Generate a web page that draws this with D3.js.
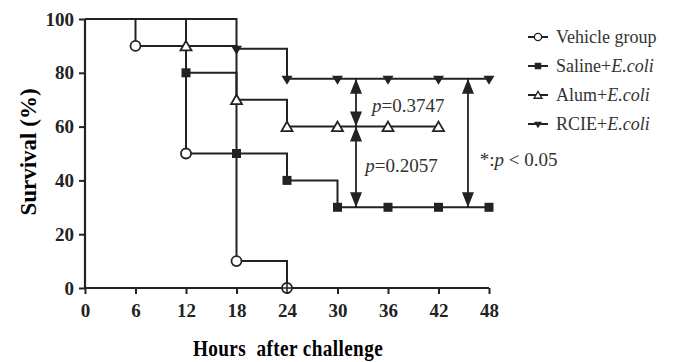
<!DOCTYPE html>
<html>
  <head>
    <meta charset="utf-8">
    <title>Survival after challenge</title>
    <script src="https://d3js.org/d3.v7.min.js"></script>
    <style>
      body { margin: 0; background: #fff; }
    </style>
  </head>
  <body>
    <script>
      // Canvas and plot area
      var W = 673, H = 362;
      var margin = {top: 19, right: 184, bottom: 74, left: 85};
      var width = W - margin.left - margin.right;
      var height = H - margin.top - margin.bottom;
      var ink = "#222";
      var serif = "'Liberation Serif', 'Times New Roman', serif";

      // Data
      var hourTicks = [0, 6, 12, 18, 24, 30, 36, 42, 48];
      var survivalTicks = [0, 20, 40, 60, 80, 100];
      var groups = ["Vehicle group", "Saline+E.coli", "Alum+E.coli", "RCIE+E.coli"];
      var vehicleHours = [0, 6, 12, 18, 24];
      var vehicleSurvival = [100, 90, 50, 10, 0];
      var salineHours = [0, 12, 18, 24, 30, 36, 42, 48];
      var salineSurvival = [100, 80, 50, 40, 30, 30, 30, 30];
      var alumHours = [0, 12, 18, 24, 30, 36, 42];
      var alumSurvival = [100, 90, 70, 60, 60, 60, 60];
      var rcieHours = [0, 18, 24, 30, 36, 42, 48];
      var rcieSurvival = [100, 88.9, 77.8, 77.8, 77.8, 77.8, 77.8];
      // comparisons: hour, from, to
      var compHours = [32.2, 32.2, 45.5];
      var compFrom = [77.8, 60, 77.8];
      var compTo = [60, 30, 30];

      var series = [
        {name: groups[0], hours: vehicleHours, vals: vehicleSurvival, shape: "circle"},
        {name: groups[1], hours: salineHours, vals: salineSurvival, shape: "square"},
        {name: groups[2], hours: alumHours, vals: alumSurvival, shape: "triangle"},
        {name: groups[3], hours: rcieHours, vals: rcieSurvival, shape: "down"}
      ];

      var svg = d3.select("body").append("svg")
          .attr("width", W).attr("height", H);
      var g = svg.append("g")
          .attr("transform", "translate(" + margin.left + "," + margin.top + ")");

      var x = d3.scaleLinear().domain([0, 48]).range([0, width]);
      var y = d3.scaleLinear().domain([0, 100]).range([height, 0]);

      // Axes
      var xAxis = g.append("g")
          .attr("transform", "translate(0," + height + ")")
          .call(d3.axisBottom(x).tickValues(hourTicks).tickSize(6).tickPadding(10));
      var yAxis = g.append("g")
          .call(d3.axisLeft(y).tickValues(survivalTicks).tickSize(6).tickPadding(5));
      [xAxis, yAxis].forEach(function(a) {
        a.attr("font-family", serif).attr("font-size", 19).attr("font-weight", "bold");
        a.select(".domain").attr("stroke", ink).attr("stroke-width", 2.2);
        a.selectAll(".tick line").attr("stroke", ink).attr("stroke-width", 2);
        a.selectAll(".tick text").attr("fill", ink);
      });
      // no outer tick caps
      xAxis.select(".domain").attr("d", "M0,0H" + width);
      yAxis.select(".domain").attr("d", "M0," + height + "V0");

      // Marker drawer
      function marker(sel, shape) {
        if (shape === "circle") {
          sel.append("circle").attr("r", 5).attr("fill", "#fff")
            .attr("stroke", ink).attr("stroke-width", 1.8);
        } else if (shape === "square") {
          sel.append("rect").attr("x", -4.5).attr("y", -4.5).attr("width", 9).attr("height", 9)
            .attr("fill", ink);
        } else if (shape === "triangle") {
          sel.append("path").attr("d", "M0,-5L5.5,4.5L-5.5,4.5Z").attr("fill", "#fff")
            .attr("stroke", ink).attr("stroke-width", 1.8);
        } else {
          sel.append("path").attr("d", "M-5.5,-3L5.5,-3L0,6Z").attr("fill", ink);
        }
      }

      var line = d3.line().curve(d3.curveStepAfter)
          .x(function(d) { return x(d[0]); })
          .y(function(d) { return y(d[1]); });

      series.forEach(function(s) {
        var pts = s.hours.map(function(h, i) { return [h, s.vals[i]]; });
        g.append("path").attr("d", line(pts)).attr("fill", "none")
          .attr("stroke", ink).attr("stroke-width", 2);
      });
      series.forEach(function(s) {
        s.hours.forEach(function(h, i) {
          if (i === 0) return;
          var m = g.append("g").attr("transform", "translate(" + x(h) + "," + y(s.vals[i]) + ")");
          marker(m, s.shape);
        });
      });
      // crosshair through the last vehicle circle
      g.append("path").attr("d", "M" + (x(24) - 5) + "," + y(0) + "H" + (x(24) + 5) +
          "M" + x(24) + "," + (y(0) - 5) + "V" + (y(0) + 5))
        .attr("stroke", ink).attr("stroke-width", 1.5);

      // Double-headed arrows
      compHours.forEach(function(h, i) {
        var ax = x(h), y1 = y(compFrom[i]), y2 = y(compTo[i]);
        var hl = 15, hw = 6;
        g.append("line").attr("x1", ax).attr("x2", ax).attr("y1", y1).attr("y2", y2)
          .attr("stroke", ink).attr("stroke-width", 1.8);
        g.append("path").attr("d", "M" + ax + "," + y1 + "L" + (ax + hw) + "," + (y1 + hl) +
            "L" + (ax - hw) + "," + (y1 + hl) + "Z").attr("fill", ink);
        g.append("path").attr("d", "M" + ax + "," + y2 + "L" + (ax + hw) + "," + (y2 - hl) +
            "L" + (ax - hw) + "," + (y2 - hl) + "Z").attr("fill", ink);
      });

      // p-value labels
      function pLabel(px, py, before, after) {
        var t = g.append("text").attr("x", px).attr("y", py)
          .attr("font-family", serif).attr("font-size", 19).attr("fill", "#333");
        if (before) t.append("tspan").text(before);
        t.append("tspan").attr("font-style", "italic").text("p");
        t.append("tspan").text(after);
      }
      pLabel(x(34.1), y(65.4), "", "=0.3747");
      pLabel(x(33.3), y(43.1), "", "=0.2057");
      pLabel(x(46.9), y(45.4), "*:", " < 0.05");

      // Legend
      var leg = svg.append("g").attr("transform", "translate(528,37)");
      series.forEach(function(s, i) {
        var row = leg.append("g").attr("transform", "translate(0," + (i * 29) + ")");
        row.append("line").attr("x1", 0).attr("x2", 20).attr("stroke", ink).attr("stroke-width", 2);
        var m = row.append("g").attr("transform", "translate(10,0) scale(0.72)");
        marker(m, s.shape);
        var parts = s.name.split("+");
        var t = row.append("text").attr("x", 28).attr("y", 6)
          .attr("font-family", serif).attr("font-size", 18).attr("fill", "#333");
        if (parts.length > 1) {
          t.append("tspan").text(parts[0] + "+");
          t.append("tspan").attr("font-style", "italic").text(parts[1]);
        } else {
          t.text(s.name);
        }
      });

      // Axis titles
      svg.append("text")
        .attr("transform", "translate(" + (margin.left + width / 2 + 1) + ",356) scale(0.8,1)")
        .attr("text-anchor", "middle").attr("font-family", serif)
        .attr("font-weight", "bold").attr("font-size", 24)
        .attr("letter-spacing", 0.5).style("white-space", "pre")
        .text("Hours  after challenge");
      svg.append("text").attr("transform", "translate(36,152) rotate(-90)")
        .attr("text-anchor", "middle").attr("font-family", serif)
        .attr("font-weight", "bold").attr("font-size", 23)
        .text("Survival (%)");
    </script>
  </body>
</html>
